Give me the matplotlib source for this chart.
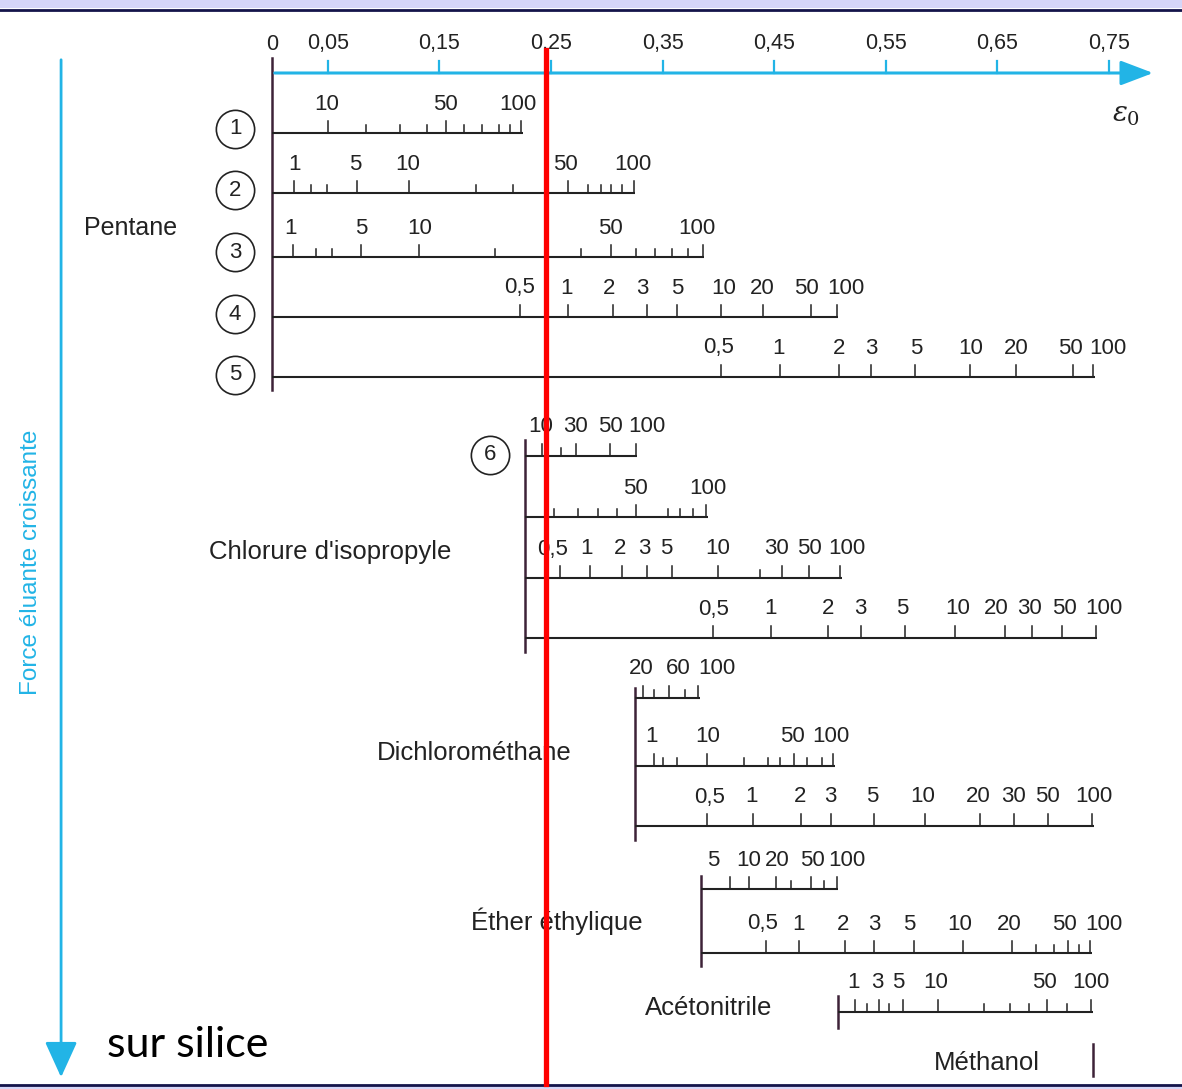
import matplotlib.pyplot as plt

# eluotropic nomogram for binary mixtures on silica
# x axis = eluent strength eps0 ; each small scale = % of the stronger solvent

CYAN = '#22b4e6'
INK = '#222222'
AXE = '#3d2238'
plt.rcParams['font.family'] = ['Liberation Sans', 'DejaVu Sans']

# main eps0 axis
eps_ticks = [0.05, 0.15, 0.25, 0.35, 0.45, 0.55, 0.65, 0.75]
eps_labels = ['0,05', '0,15', '0,25', '0,35', '0,45', '0,55', '0,65', '0,75']

# pentane + solvent 1..5  (tick positions in eps0, '' = unlabeled tick)
s1_ticks = [0.050, 0.084, 0.115, 0.139, 0.156, 0.172, 0.188, 0.203, 0.213, 0.223]
s1_names = ['10', '', '', '', '50', '', '', '', '', '100']
s1_lab = [0.049, 0.155, 0.220]

s2_ticks = [0.020, 0.035, 0.049, 0.076, 0.123, 0.183, 0.216, 0.265, 0.283, 0.295, 0.304, 0.314, 0.324]
s2_names = ['1', '', '', '5', '10', '', '', '50', '', '', '', '', '100']
s2_lab = [0.020, 0.075, 0.122, 0.263, 0.323]

s3_ticks = [0.019, 0.039, 0.054, 0.080, 0.132, 0.200, 0.277, 0.304, 0.326, 0.343, 0.358, 0.373, 0.386]
s3_names = ['1', '', '', '5', '10', '', '', '50', '', '', '', '', '100']
s3_lab = [0.017, 0.080, 0.132, 0.303, 0.381]

s4_ticks = [0.222, 0.265, 0.306, 0.336, 0.363, 0.402, 0.440, 0.483, 0.506]
s4_names = ['0,5', '1', '2', '3', '5', '10', '20', '50', '100']
s4_lab = [0.222, 0.264, 0.302, 0.332, 0.363, 0.405, 0.439, 0.479, 0.514]

s5_ticks = [0.402, 0.455, 0.508, 0.537, 0.576, 0.625, 0.667, 0.718, 0.736]
s5_names = ['0,5', '1', '2', '3', '5', '10', '20', '50', '100']
s5_lab = [0.400, 0.454, 0.508, 0.537, 0.577, 0.626, 0.667, 0.715, 0.749]

# chlorure d'isopropyle
c1_ticks = [0.242, 0.259, 0.272, 0.303, 0.326]
c1_names = ['10', '', '30', '50', '100']
c1_lab = [0.241, 0.272, 0.303, 0.336]

c2_ticks = [0.253, 0.274, 0.292, 0.309, 0.326, 0.355, 0.366, 0.377, 0.389]
c2_names = ['', '', '', '', '50', '', '', '', '100']
c2_lab = [0.326, 0.391]

c3_ticks = [0.258, 0.285, 0.314, 0.336, 0.358, 0.400, 0.437, 0.457, 0.481, 0.509]
c3_names = ['0,5', '1', '2', '3', '5', '10', '', '30', '50', '100']
c3_lab = [0.251, 0.282, 0.312, 0.334, 0.353, 0.399, 0.452, 0.482, 0.515]

c4_ticks = [0.395, 0.447, 0.498, 0.528, 0.567, 0.612, 0.657, 0.681, 0.708, 0.738]
c4_names = ['0,5', '1', '2', '3', '5', '10', '20', '30', '50', '100']
c4_lab = [0.396, 0.447, 0.498, 0.527, 0.565, 0.614, 0.649, 0.679, 0.710, 0.745]

# dichloromethane
d1_ticks = [0.332, 0.342, 0.356, 0.370, 0.382]
d1_names = ['20', '', '60', '', '100']
d1_lab = [0.331, 0.364, 0.399]

d2_ticks = [0.342, 0.350, 0.363, 0.390, 0.423, 0.444, 0.455, 0.468, 0.479, 0.493, 0.503]
d2_names = ['1', '', '', '10', '', '', '', '50', '', '', '100']
d2_lab = [0.340, 0.390, 0.466, 0.501]

d3_ticks = [0.390, 0.431, 0.474, 0.501, 0.539, 0.585, 0.634, 0.665, 0.695, 0.735]
d3_names = ['0,5', '1', '2', '3', '5', '10', '20', '30', '50', '100']
d3_lab = [0.392, 0.430, 0.473, 0.500, 0.538, 0.583, 0.633, 0.664, 0.695, 0.736]

# ether ethylique
e1_ticks = [0.410, 0.427, 0.452, 0.465, 0.483, 0.495, 0.506]
e1_names = ['5', '10', '20', '', '50', '', '100']
e1_lab = [0.395, 0.427, 0.453, 0.484, 0.515]

e2_ticks = [0.443, 0.472, 0.513, 0.539, 0.575, 0.619, 0.663, 0.685, 0.701, 0.713, 0.723, 0.733]
e2_names = ['0,5', '1', '2', '3', '5', '10', '20', '', '', '50', '', '100']
e2_lab = [0.440, 0.472, 0.512, 0.540, 0.571, 0.616, 0.661, 0.710, 0.745]

# acetonitrile
a1_ticks = [0.522, 0.533, 0.544, 0.553, 0.565, 0.597, 0.638, 0.661, 0.678, 0.694, 0.712, 0.734]
a1_names = ['1', '', '3', '', '5', '10', '', '', '', '50', '', '100']
a1_lab = [0.521, 0.542, 0.561, 0.595, 0.692, 0.734]

# start of each solvent group on eps0 axis (pure solvent)
pentane_eps = 0.0
chlorure_eps = 0.227
dichloro_eps = 0.325
ether_eps = 0.384
aceto_eps = 0.507
methanol_eps = 0.736

red_eps = 0.2455

TICK_FS = 16
NAME_FS = 18.5

fig = plt.figure(figsize=(11.82, 10.89), dpi=100)
ax = fig.add_axes([0, 0, 1, 1])
ax.set_xlim(-272 / 1116, 910 / 1116)
ax.set_ylim(1089, 0)
ax.axis('off')


def draw_scale(y, x0, ticks, names, lab, x1=None):
    if x1 is None:
        x1 = ticks[-1] + 0.0015
    ax.plot([x0, x1], [y, y], color=INK, lw=1.5, solid_capstyle='butt')
    for t, n in zip(ticks, names):
        h = 12 if n else 8
        ax.plot([t, t], [y, y - h], color=INK, lw=1.1)
    labs = [n for n in names if n]
    for n, p in zip(labs, lab):
        ax.text(p, y - 29, n, ha='center', va='center', fontsize=TICK_FS, color=INK)


# window frame bands
ax.axhspan(0, 8, color='#d6d6f8', lw=0)
ax.axhline(9.5, color='#14144a', lw=2)
ax.axhspan(1086, 1089, color='#d6d6f8', lw=0)
ax.axhline(1084.5, color='#14144a', lw=2)

# eps0 axis
ax.annotate('', xy=(0.792, 73), xytext=(0, 73),
            arrowprops=dict(arrowstyle='-|>,head_length=1.0,head_width=0.38',
                            mutation_scale=20, color=CYAN, lw=2.2))
for t, l in zip(eps_ticks, eps_labels):
    ax.plot([t, t], [73, 61], color=CYAN, lw=1.6)
    ax.text(t, 44, l, ha='center', va='center', fontsize=15.5, color=INK)
ax.text(0, 44, '0', ha='center', va='center', fontsize=15.5, color=INK)
ax.text(0.765, 115, r'$\varepsilon_0$', ha='center', va='center', fontsize=20,
        color=INK, math_fontfamily='dejavuserif')

# pentane block
ax.plot([pentane_eps, pentane_eps], [58, 390], color=AXE, lw=1.8)
rows_pent = [133, 193, 257, 317, 377]
draw_scale(rows_pent[0], pentane_eps, s1_ticks, s1_names, s1_lab)
draw_scale(rows_pent[1], pentane_eps, s2_ticks, s2_names, s2_lab)
draw_scale(rows_pent[2], pentane_eps, s3_ticks, s3_names, s3_lab)
draw_scale(rows_pent[3], pentane_eps, s4_ticks, s4_names, s4_lab)
draw_scale(rows_pent[4], pentane_eps, s5_ticks, s5_names, s5_lab)
circ_y = [129, 190, 252, 314, 375]
ax.scatter([-0.033] * 5, circ_y, s=760, facecolors='white', edgecolors=INK, linewidths=1.2, zorder=3)
for i, cy in enumerate(circ_y):
    ax.text(-0.033, cy, str(i + 1), ha='center', va='center', fontsize=16, color=INK, zorder=4)
ax.text(-0.127, 228, 'Pentane', ha='center', va='center', fontsize=18, color=INK)

# chlorure d'isopropyle block
ax.plot([chlorure_eps, chlorure_eps], [440, 652], color=AXE, lw=1.8)
draw_scale(456, chlorure_eps, c1_ticks, c1_names, c1_lab)
draw_scale(517, chlorure_eps, c2_ticks, c2_names, c2_lab)
draw_scale(578, chlorure_eps, c3_ticks, c3_names, c3_lab)
draw_scale(638, chlorure_eps, c4_ticks, c4_names, c4_lab)
ax.scatter([0.1953], [455], s=760, facecolors='white', edgecolors=INK, linewidths=1.2, zorder=3)
ax.text(0.1953, 455, '6', ha='center', va='center', fontsize=16, color=INK, zorder=4)
ax.text(0.052, 552, "Chlorure d'isopropyle", ha='center', va='center', fontsize=NAME_FS, color=INK)

# dichloromethane block
ax.plot([dichloro_eps, dichloro_eps], [688, 840], color=AXE, lw=1.8)
draw_scale(698, dichloro_eps, d1_ticks, d1_names, d1_lab)
draw_scale(766, dichloro_eps, d2_ticks, d2_names, d2_lab)
draw_scale(826, dichloro_eps, d3_ticks, d3_names, d3_lab)
ax.text(0.181, 753, 'Dichlorométhane', ha='center', va='center', fontsize=NAME_FS, color=INK)

# ether block
ax.plot([ether_eps, ether_eps], [876, 966], color=AXE, lw=1.8)
draw_scale(889, ether_eps, e1_ticks, e1_names, e1_lab)
draw_scale(953, ether_eps, e2_ticks, e2_names, e2_lab)
ax.text(0.255, 921, 'Éther éthylique', ha='center', va='center', fontsize=NAME_FS, color=INK)

# acetonitrile + methanol
ax.plot([aceto_eps, aceto_eps], [996, 1028], color=AXE, lw=1.8)
draw_scale(1012, aceto_eps, a1_ticks, a1_names, a1_lab)
ax.text(0.391, 1008, 'Acétonitrile', ha='center', va='center', fontsize=NAME_FS, color=INK)
ax.plot([methanol_eps, methanol_eps], [1044, 1076], color=AXE, lw=1.8)
ax.text(0.641, 1063, 'Méthanol', ha='center', va='center', fontsize=NAME_FS, color=INK)

# left arrow: increasing eluent strength
ax.annotate('', xy=(-0.189, 1080), xytext=(-0.189, 57),
            arrowprops=dict(arrowstyle='-|>,head_length=1.1,head_width=0.5',
                            mutation_scale=20, color=CYAN, lw=2))
ax.text(-0.216, 562, 'Force éluante croissante', rotation=90, ha='center', va='center',
        fontsize=17.5, color=CYAN)
ax.text(-0.148, 1045, 'sur silice', ha='left', va='center', fontsize=31, color='black',
        family=['Lato', 'DejaVu Sans'])

# red reading line
ax.plot([red_eps, red_eps], [50, 1084], color='#ff0000', lw=3.8, zorder=5)

fig.savefig('out.png', dpi=100)
